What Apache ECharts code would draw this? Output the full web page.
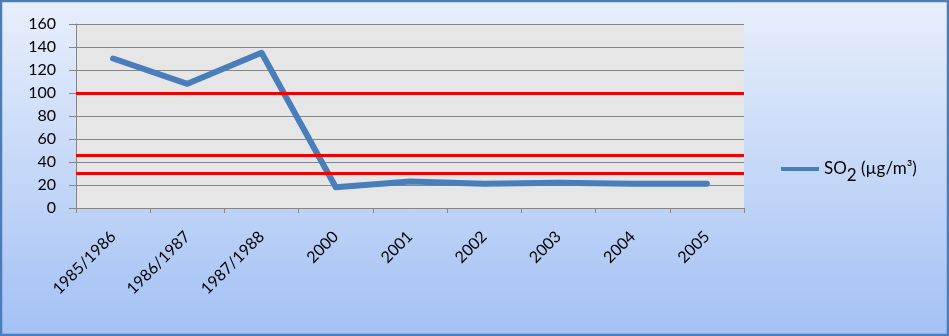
<!DOCTYPE html>
<html>
<head>
<meta charset="utf-8">
<script src="https://cdn.jsdelivr.net/npm/echarts@6/dist/echarts.min.js"></script>
<style>
html,body{margin:0;padding:0;}
#c{width:949px;height:336px;}
</style>
</head>
<body>
<div id="c"></div>
<script>
var categories = ['1985/1986','1986/1987','1987/1988','2000','2001','2002','2003','2004','2005'];
var so2Values = [130, 108, 135, 18, 23, 21, 22, 21, 21];
var limitValues = [100, 46, 30];
var yTicks = {min: 0, max: 160, interval: 20};
var seriesName = 'SO2 (µg/m³)';

var chart = echarts.init(document.getElementById('c'));
var font = 'Lato, "Open Sans", sans-serif';
chart.setOption({
  backgroundColor: {
    type: 'linear', x: 0, y: 0, x2: 0, y2: 1,
    colorStops: [{offset: 0, color: '#e8effb'}, {offset: 1, color: '#a3c1f4'}]
  },
  animation: false,
  graphic: [{
    type: 'rect', z: 100, silent: true,
    shape: {x: 1, y: 1, width: 947, height: 334},
    style: {fill: 'none', stroke: '#4a7ebb', lineWidth: 2.5}
  }],
  grid: {left: 76, right: 205, top: 24, bottom: 128, show: true, backgroundColor: '#e6e6e6', borderWidth: 0},
  legend: {
    left: 776, top: 155, itemWidth: 38, itemHeight: 4, itemGap: 0,
    icon: 'rect',
    data: [seriesName],
    formatter: function () { return '{a|SO}{b|2}{a| (µg/m³)}'; },
    textStyle: {
      color: '#000', fontFamily: font,
      rich: {
        a: {fontSize: 17, fontFamily: font, color: '#000', lineHeight: 18, verticalAlign: 'top'},
        b: {fontSize: 17, fontFamily: font, color: '#000', lineHeight: 18, padding: [7, 0, 0, 0], verticalAlign: 'top'}
      }
    }
  },
  xAxis: {
    type: 'category', data: categories, boundaryGap: true,
    axisLine: {lineStyle: {color: '#868686', width: 1}},
    axisTick: {show: true, length: 5, lineStyle: {color: '#868686'}},
    axisLabel: {rotate: 45, margin: 26, color: '#000', fontSize: 16, fontFamily: font, interval: 0}
  },
  yAxis: {
    type: 'value', min: yTicks.min, max: yTicks.max, interval: yTicks.interval,
    axisLine: {show: true, lineStyle: {color: '#868686', width: 1}},
    axisTick: {show: true, length: 7, lineStyle: {color: '#868686'}},
    splitLine: {show: true, lineStyle: {color: '#868686', width: 1}},
    axisLabel: {margin: 20, color: '#000', fontSize: 16, fontFamily: font}
  },
  series: [{
    name: seriesName, type: 'line', data: so2Values,
    symbol: 'none', smooth: false,
    lineStyle: {color: '#4a7ebb', width: 6, cap: 'round', join: 'round'},
    itemStyle: {color: '#4a7ebb'},
    z: 3,
    markLine: {
      silent: true, symbol: 'none', label: {show: false},
      lineStyle: {color: '#ee0000', width: 3, type: 'solid'},
      data: limitValues.map(function (v) { return {yAxis: v}; })
    }
  }]
});
</script>
</body>
</html>
